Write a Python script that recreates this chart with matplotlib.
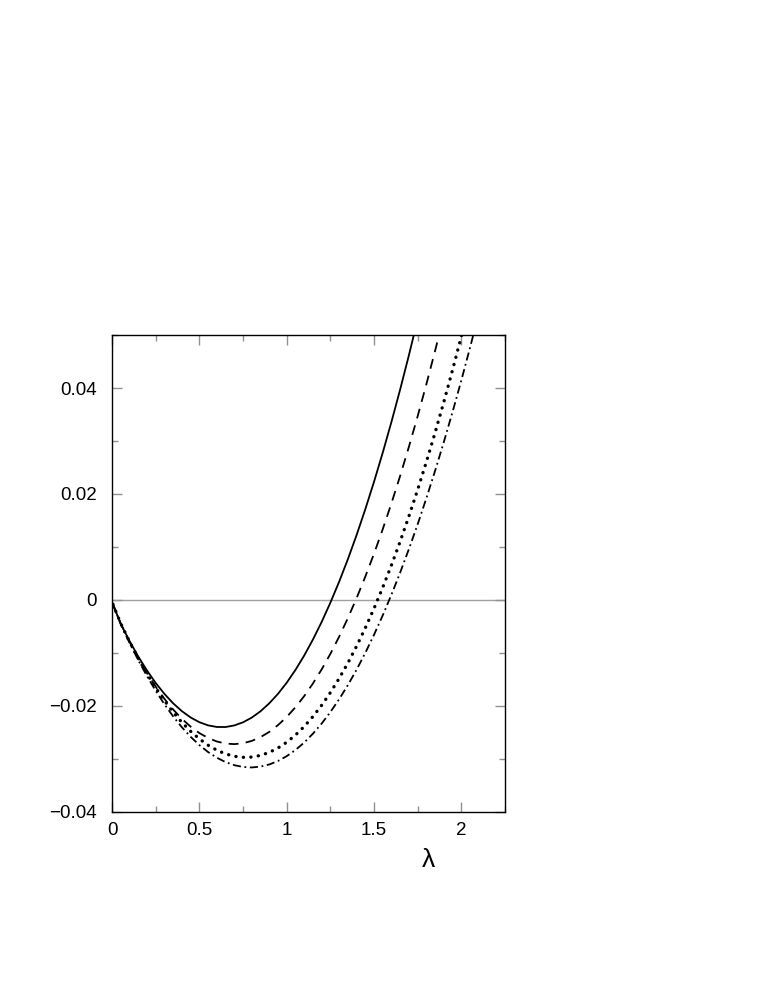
import matplotlib
matplotlib.use("Agg")
import matplotlib.pyplot as plt
from matplotlib.ticker import MultipleLocator, FuncFormatter

plt.rcParams['font.family'] = ['Liberation Sans', 'DejaVu Sans']

lam = [0.005, 0.05, 0.1, 0.15, 0.2, 0.25, 0.3, 0.35, 0.4, 0.45, 0.5, 0.55,
       0.6, 0.65, 0.7, 0.75, 0.8, 0.85, 0.9, 0.95, 1.0, 1.05, 1.1, 1.15,
       1.2, 1.25, 1.3, 1.35, 1.4, 1.45, 1.5, 1.55, 1.6, 1.65, 1.7, 1.75,
       1.8, 1.85, 1.9, 1.95, 2.0, 2.05, 2.1]

# values (each curve stops once it leaves the top)
solid = [-0.0008, -0.00451, -0.00773, -0.01066, -0.0133, -0.01566, -0.01772,
         -0.0195, -0.02098, -0.02217, -0.02306, -0.02366, -0.02396, -0.02397,
         -0.02367, -0.02308, -0.02219, -0.021, -0.0195, -0.01771, -0.01561,
         -0.0132, -0.01049, -0.00747, -0.00415, -0.00051, 0.00343, 0.00768,
         0.01225, 0.01713, 0.02232, 0.02783, 0.03365, 0.03979, 0.04624, 0.05302]
dashed = [-0.0008, -0.00448, -0.00786, -0.01096, -0.0138, -0.01636, -0.01866,
          -0.02067, -0.02243, -0.0239, -0.02511, -0.02604, -0.0267, -0.02709,
          -0.0272, -0.02703, -0.02659, -0.02588, -0.02489, -0.02361, -0.02207,
          -0.02024, -0.01814, -0.01576, -0.0131, -0.01016, -0.00694, -0.00343,
          0.00035, 0.00441, 0.00875, 0.01338, 0.01829, 0.02348, 0.02896,
          0.03472, 0.04077, 0.04709, 0.05371]
dotted = [-0.0008, -0.00443, -0.00783, -0.01099, -0.0139, -0.01657, -0.01899,
          -0.02117, -0.0231, -0.02478, -0.02621, -0.0274, -0.02834, -0.02904,
          -0.02949, -0.02969, -0.02964, -0.02933, -0.02876, -0.02793, -0.02684,
          -0.02549, -0.02388, -0.022, -0.01987, -0.01747, -0.01481, -0.0119,
          -0.00872, -0.00528, -0.00158, 0.00239, 0.00661, 0.01109, 0.01584,
          0.02084, 0.02611, 0.03164, 0.03743, 0.04348, 0.04979, 0.05636]
dashdot = [-0.0008, -0.00455, -0.00807, -0.01134, -0.01436, -0.01714, -0.01968,
           -0.02197, -0.02402, -0.02582, -0.02738, -0.02869, -0.02976, -0.03059,
           -0.03117, -0.03151, -0.0316, -0.03144, -0.03104, -0.03038, -0.02947,
           -0.02831, -0.0269, -0.02523, -0.02332, -0.02115, -0.01873, -0.01607,
           -0.01315, -0.00998, -0.00655, -0.00288, 0.00104, 0.00522, 0.00965,
           0.01432, 0.01925, 0.02443, 0.02987, 0.03555, 0.04148, 0.04767, 0.05411]

fig = plt.figure(figsize=(7.58, 9.81), dpi=100)
ax = fig.add_axes([0.1478, 0.1723, 0.5185, 0.4862])

ax.axhline(0, color='#a0a0a0', lw=1.0, zorder=1)

ax.plot(lam[:len(solid)], solid, color='k', lw=1.3, ls='-')
ax.plot(lam[:len(dashed)], dashed, color='k', lw=1.3, ls=(0, (5.5, 4)))
ax.plot(lam[:len(dotted)], dotted, color='k', lw=2.4, ls=(0, (0.05, 2.2)),
        dash_capstyle='round')
ax.plot(lam[:len(dashdot)], dashdot, color='k', lw=1.3, ls=(0, (4.5, 2, 1, 2)))

ax.set_xlim(0, 2.25)
ax.set_ylim(-0.04, 0.05)

ax.xaxis.set_major_locator(MultipleLocator(0.5))
ax.xaxis.set_minor_locator(MultipleLocator(0.25))
ax.yaxis.set_major_locator(MultipleLocator(0.02))
ax.yaxis.set_minor_locator(MultipleLocator(0.01))

def fmt(v, pos):
    if abs(v) < 1e-9:
        return '0'
    return ('%g' % v).replace('-', '\u2212')

ax.xaxis.set_major_formatter(FuncFormatter(fmt))
ax.yaxis.set_major_formatter(FuncFormatter(fmt))

ax.tick_params(which='both', direction='in', top=True, right=True,
               color='#909090', labelsize=13.5)
ax.tick_params(which='major', length=7, width=1.0)
ax.tick_params(which='minor', length=4, width=1.0)
ax.tick_params(axis='x', pad=7)
ax.tick_params(axis='y', pad=11)

for sp in ax.spines.values():
    sp.set_linewidth(1.0)

fig.text(428 / 758, 1 - 860 / 981, '\u03bb', ha='center', va='center', fontsize=19)

fig.savefig("out.png", dpi=100)
